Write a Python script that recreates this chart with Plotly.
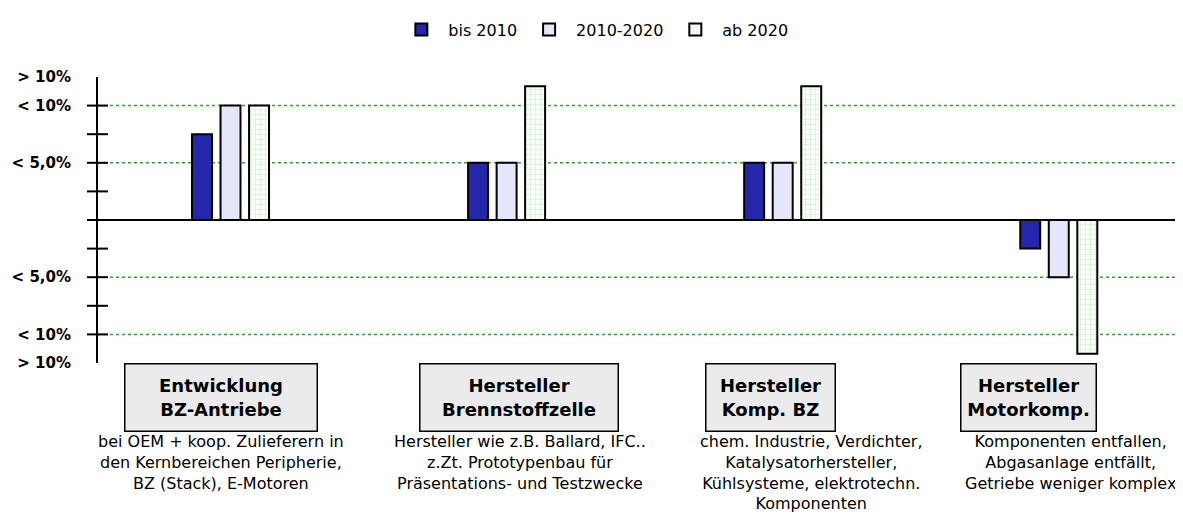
import plotly.graph_objects as go

# ---- data ----
categories = ["Entwicklung BZ-Antriebe", "Hersteller Brennstoffzelle",
              "Hersteller Komp. BZ", "Hersteller Motorkomp."]
series_names = ["bis 2010", "2010-2020", "ab 2020"]
bis_2010 = [7.5, 5.0, 5.0, -2.5]
y2010_2020 = [10.0, 5.0, 5.0, -5.0]
ab_2020 = [10.0, 11.7, 11.7, -11.7]

label_vals = [12.5, 10, 5, -5, -10, -12.5]
label_text = ["> 10%", "< 10%", "< 5,0%", "< 5,0%", "< 10%", "> 10%"]
tick_vals = [-10, -7.5, -5, -2.5, 0, 2.5, 5, 7.5, 10]
grid_vals = [-10, -5, 5, 10]

box_titles = ["Entwicklung<br>BZ-Antriebe", "Hersteller<br>Brennstoffzelle",
              "Hersteller<br>Komp. BZ", "Hersteller<br>Motorkomp."]
descriptions = [
    "bei OEM + koop. Zulieferern in<br>den Kernbereichen Peripherie,<br>BZ (Stack), E-Motoren",
    "Hersteller wie z.B. Ballard, IFC..<br>z.Zt. Prototypenbau für<br>Präsentations- und Testzwecke",
    "chem. Industrie, Verdichter,<br>Katalysatorhersteller,<br>Kühlsysteme, elektrotechn.<br>Komponenten",
    "Komponenten entfallen,<br>Abgasanlage entfällt,<br>Getriebe weniger komplex",
]

# ---- styling (layout only) ----
FONT = "DejaVu Sans"
box_widths = [191, 197, 128, 134]
box_shift = [-10, 12, -12, -30]
desc_shift = [-10, 13, 29, 12]

fig = go.Figure()
fig.add_trace(go.Bar(name=series_names[0], x=categories, y=bis_2010,
                     marker=dict(color="#2626ac", line=dict(color="black", width=2))))
fig.add_trace(go.Bar(name=series_names[1], x=categories, y=y2010_2020,
                     marker=dict(color="#e6e6fa", line=dict(color="black", width=2))))
fig.add_trace(go.Bar(name=series_names[2], x=categories, y=ab_2020,
                     marker=dict(color="white", line=dict(color="black", width=2),
                                 pattern=dict(shape="+", fgcolor="#a8e8a8", bgcolor="white",
                                              size=5, solidity=0.3))))

for i, cat in enumerate(categories):
    fig.add_annotation(x=cat, xref="x", y=0, yref="paper", yanchor="top",
                       xshift=box_shift[i], text="<b>" + box_titles[i] + "</b>",
                       showarrow=False, width=box_widths[i], height=66,
                       bgcolor="#ebebeb", bordercolor="black", borderwidth=1.5,
                       borderpad=0, font=dict(family=FONT, size=18, color="black"))
    fig.add_annotation(x=cat, xref="x", y=0, yref="paper", yanchor="top",
                       xshift=desc_shift[i], yshift=-67, text=descriptions[i],
                       showarrow=False, align="center",
                       font=dict(family=FONT, size=16, color="black"))

# horizontal guide lines
for g in grid_vals:
    fig.add_shape(type="line", xref="paper", x0=0, x1=1, yref="y", y0=g, y1=g,
                  line=dict(color="#3a9a3a", width=1.5, dash="dot"), layer="below")
# axis tick marks crossing the axis line
for t in tick_vals:
    fig.add_shape(type="line", xref="paper", xsizemode="pixel", xanchor=0,
                  x0=-11, x1=10, yref="y", y0=t, y1=t,
                  line=dict(color="black", width=2), layer="above")

fig.update_layout(
    width=1175, height=516,
    margin=dict(l=90, r=0, t=69, b=161, autoexpand=False),
    plot_bgcolor="white", paper_bgcolor="white",
    barmode="group", bargap=0.69, bargroupgap=0.3,
    font=dict(family=FONT, color="black"),
    legend=dict(orientation="h", x=0.457, xanchor="center", y=1.225, yanchor="top",
                font=dict(family=FONT, size=16, color="black"),
                itemwidth=44),
    xaxis=dict(range=[-0.48, 3.45], showticklabels=False, showgrid=False,
               zeroline=False, showline=False, ticks="", automargin=False),
    yaxis=dict(range=[-12.5, 12.5], tickvals=label_vals, ticktext=label_text,
               tickfont=dict(family=FONT, size=15, color="black", weight="bold"),
               ticks="", showgrid=False, showline=True, linecolor="black", linewidth=2,
               zeroline=True, zerolinecolor="black", zerolinewidth=2,
               ticklabelstandoff=22, automargin=False),
)

fig.write_html("out.html")
